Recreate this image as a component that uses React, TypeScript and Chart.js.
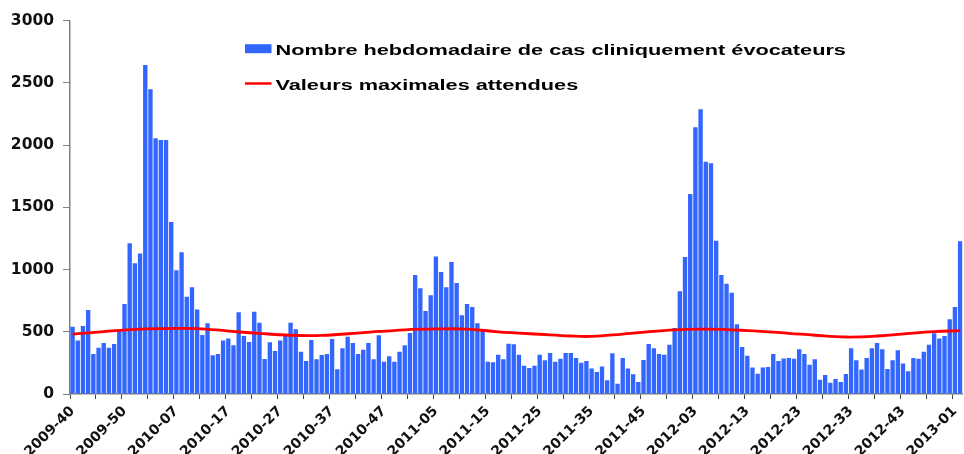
import React, { useEffect, useRef } from 'react';
import { Chart, registerables } from 'chart.js';

Chart.register(...registerables);

// ---- categories (ISO weeks) ----
const weeksPerYear: Record<number, number> = { 2009: 53, 2010: 52, 2011: 52, 2012: 52, 2013: 52 };
function buildWeeks(startYear: number, startWeek: number, count: number): string[] {
  const out: string[] = [];
  let y = startYear;
  let w = startWeek;
  for (let i = 0; i < count; i++) {
    out.push(`${y}-${String(w).padStart(2, '0')}`);
    w++;
    if (w > weeksPerYear[y]) {
      w = 1;
      y++;
    }
  }
  return out;
}
const weeks = buildWeeks(2009, 40, 172);

// ---- series: weekly number of clinically suggestive cases ----
const casesHebdo = [
  541, 429, 546, 675, 321, 372, 410, 372, 402, 506,
  723, 1211, 1050, 1130, 2644, 2449, 2055, 2041, 2041, 1382,
  994, 1139, 782, 857, 680, 474, 568, 311, 321, 429,
  447, 391, 656, 466, 418, 662, 573, 281, 415, 346,
  429, 466, 573, 520, 340, 265, 434, 279, 313, 321,
  442, 198, 367, 461, 410, 321, 356, 410, 279, 472,
  260, 303, 260, 340, 391, 490, 956, 849, 667, 793,
  1106, 980, 857, 1061, 892, 632, 723, 699, 568, 522,
  260, 255, 316, 279, 404, 399, 316, 228, 209, 228,
  316, 271, 330, 260, 284, 330, 330, 289, 252, 265,
  204, 177, 222, 110, 327, 83, 289, 204, 158, 96,
  273, 402, 367, 321, 316, 396, 530, 825, 1100, 1607,
  2143, 2288, 1867, 1854, 1232, 956, 887, 814, 560, 378,
  308, 212, 163, 212, 217, 321, 265, 285, 289, 284,
  359, 321, 236, 279, 115, 153, 91, 121, 96, 161,
  367, 271, 196, 289, 367, 410, 359, 201, 271, 351,
  246, 182, 289, 284, 340, 396, 488, 447, 466, 600,
  699, 1227,
];

// ---- series: expected maximum values (read at these weeks) ----
const seuilWeeks = [
  '2009-40', '2009-46', '2009-52', '2010-05', '2010-11', '2010-17', '2010-23',
  '2010-29', '2010-35', '2010-43', '2010-51', '2011-05', '2011-11', '2011-17',
  '2011-25', '2011-31', '2011-35', '2011-41', '2011-50', '2012-05', '2012-13',
  '2012-21', '2012-26', '2012-32', '2012-38', '2012-45', '2012-49', '2013-02',
];
const seuilValues = [
  482, 501, 520, 526, 526, 506, 487,
  472, 471, 493, 516, 523, 522, 500,
  480, 466, 463, 482, 514, 522, 510,
  488, 472, 458, 466, 490, 501, 509,
];

const yMax = 3000;
const yStep = 500;
const labelEvery = 10;
const tickMarkEvery = 5;

const legendLabels = [
  'Nombre hebdomadaire de cas cliniquement évocateurs',
  'Valeurs maximales attendues',
];

const BAR_COLOR = '#3366ff';
const LINE_COLOR = '#ff0000';

const legendPlugin = {
  id: 'insideLegend',
  afterDraw(chart: any) {
    const { ctx, chartArea } = chart;
    const x0 = chartArea.left + 175;
    const y0 = chartArea.top;
    ctx.save();
    // bar swatch
    ctx.fillStyle = BAR_COLOR;
    ctx.fillRect(x0, y0 + 23.5, 26.5, 9);
    // line swatch
    ctx.strokeStyle = LINE_COLOR;
    ctx.lineWidth = 2.5;
    ctx.beginPath();
    ctx.moveTo(x0, y0 + 62.8);
    ctx.lineTo(x0 + 26.5, y0 + 62.8);
    ctx.stroke();
    // texts (horizontally stretched like the original picture)
    ctx.fillStyle = '#000';
    ctx.font = 'bold 15.5px "Liberation Sans", Arial, sans-serif';
    ctx.textBaseline = 'alphabetic';
    ctx.textAlign = 'left';
    const rows = [y0 + 33.8, y0 + 68.8];
    legendLabels.forEach((t, i) => {
      ctx.save();
      ctx.translate(x0 + 30.5, rows[i]);
      ctx.scale(1.4, 1);
      ctx.fillText(t, 0, 0);
      ctx.restore();
    });
    ctx.restore();
  },
};

export default function App() {
  const ref = useRef<HTMLCanvasElement | null>(null);

  useEffect(() => {
    if (!ref.current) return;
    const chart = new Chart(ref.current, {
      type: 'bar',
      data: {
        labels: weeks,
        datasets: [
          {
            type: 'bar',
            label: legendLabels[0],
            data: casesHebdo,
            backgroundColor: BAR_COLOR,
            borderWidth: 0,
            categoryPercentage: 1,
            barPercentage: 0.84,
            order: 1,
          } as any,
          {
            type: 'line',
            label: legendLabels[1],
            data: seuilWeeks.map((w, i) => ({ x: w, y: seuilValues[i] })),
            borderColor: LINE_COLOR,
            backgroundColor: LINE_COLOR,
            borderWidth: 2.8,
            pointRadius: 0,
            tension: 0.4,
            fill: false,
            order: 0,
          } as any,
        ],
      },
      options: {
        responsive: false,
        animation: false,
        devicePixelRatio: 1,
        layout: { padding: { top: 20.7, right: 8.8, left: 0, bottom: 0 } },
        plugins: {
          legend: { display: false },
          tooltip: { enabled: false },
        },
        scales: {
          x: {
            type: 'category',
            offset: true,
            grid: {
              offset: true,
              drawOnChartArea: false,
              drawTicks: true,
              tickLength: 5,
              lineWidth: 1,
              tickColor: (c: any) => (c.index % tickMarkEvery === 0 ? '#444' : 'rgba(0,0,0,0)'),
              color: (c: any) => (c.index % tickMarkEvery === 0 ? '#444' : 'rgba(0,0,0,0)'),
            },
            border: { display: true, color: '#808080', width: 1.5 },
            ticks: {
              autoSkip: false,
              minRotation: 45,
              maxRotation: 45,
              padding: 4,
              color: '#111',
              font: { family: '"DejaVu Sans", sans-serif', weight: 'bold', size: 14 },
              callback: (_v: any, i: number) => (i % labelEvery === 0 ? weeks[i] : ''),
            },
            afterFit: (s: any) => {
              s.height = 60;
            },
          },
          y: {
            min: 0,
            max: yMax,
            grid: {
              drawOnChartArea: false,
              drawTicks: true,
              tickLength: 7,
              color: '#808080',
              tickColor: '#808080',
            },
            border: { display: true, color: '#808080', width: 1.5 },
            ticks: {
              stepSize: yStep,
              padding: 9,
              color: '#111',
              font: { family: '"DejaVu Sans", sans-serif', weight: 'bold', size: 15.5 },
              callback: (v: any) => String(v),
            },
            afterFit: (s: any) => {
              s.width = 70;
            },
          },
        },
      } as any,
      plugins: [legendPlugin],
    });
    return () => chart.destroy();
  }, []);

  return (
    <div
      style={{
        position: 'fixed',
        left: 0,
        top: 0,
        width: 964,
        height: 454,
        overflow: 'hidden',
        background: '#fff',
      }}
    >
      <canvas ref={ref} width={976} height={454} style={{ display: 'block', width: 976, height: 454 }} />
    </div>
  );
}
